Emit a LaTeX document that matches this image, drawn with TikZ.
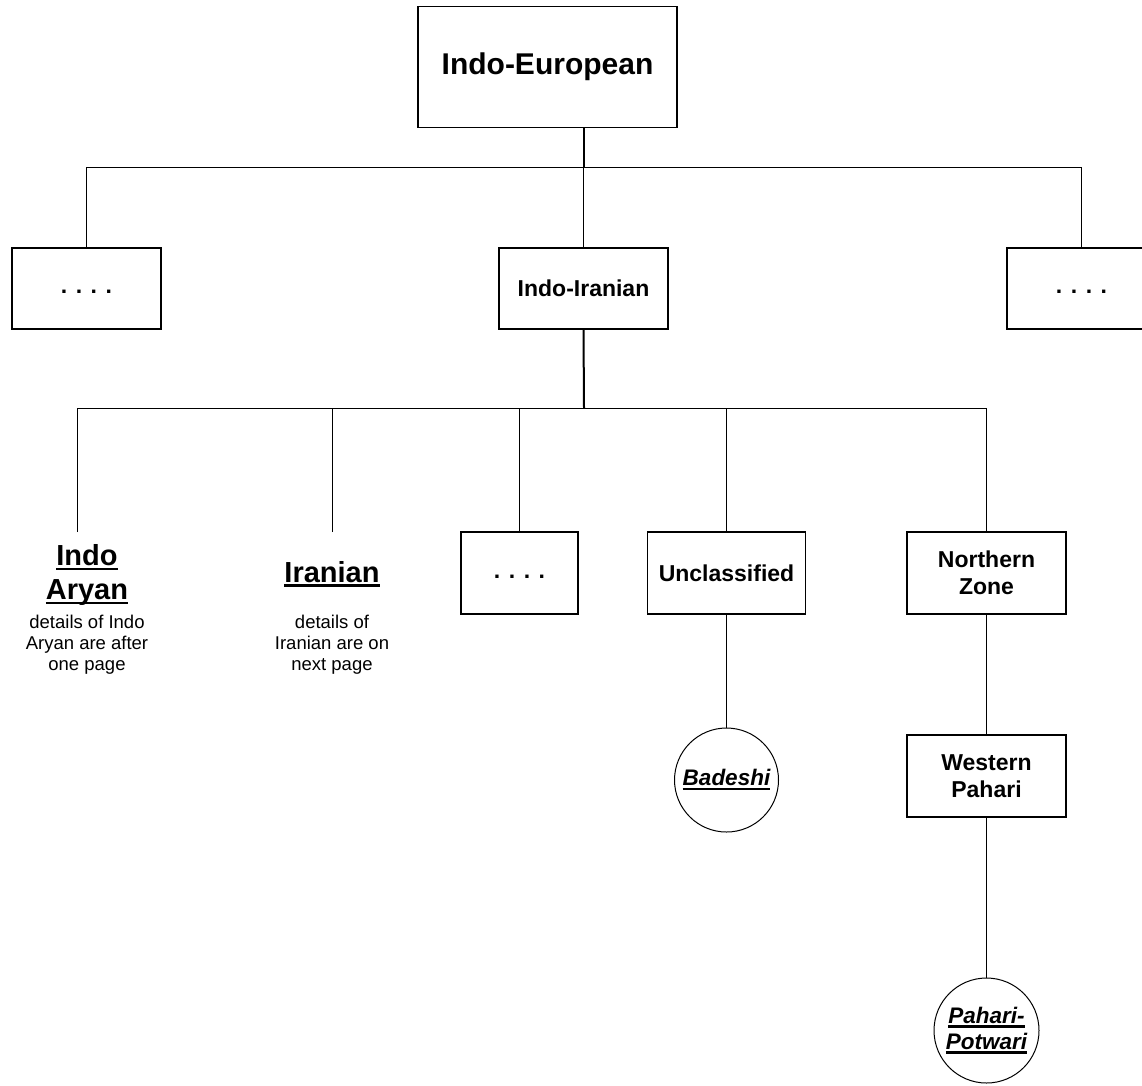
\documentclass[tikz,border=0pt]{standalone}
\usepackage{fontspec}
\setmainfont{Liberation Sans}
% heavy underline drawn as a rule under the word
\newcommand{\thickul}[1]{\setbox0\hbox{#1}\leavevmode\rlap{\rule[-4.5pt]{\wd0}{2.5pt}}\box0}
\newcommand{\dotrow}{\vphantom{Ag}. . . .}
\begin{document}
\begin{tikzpicture}[x=1pt,y=-1pt,
  box/.style={draw, line width=1.3pt, inner sep=0pt, align=center,
    font=\bfseries\fontsize{23}{27}\selectfont},
  leaf/.style={draw, circle, line width=1pt, inner sep=0pt, minimum size=104pt,
    align=center, font=\bfseries\itshape\fontsize{22.5}{26}\selectfont},
  head/.style={align=center, font=\bfseries\fontsize{29}{34}\selectfont},
  note/.style={align=center, font=\fontsize{18.5}{21}\selectfont},
  link/.style={line width=1pt},
  trunk/.style={line width=2pt}]
\useasboundingbox (0,0) rectangle (1142,1085);
\clip (0,0) rectangle (1142,1085);

% root
\node[box, minimum width=259pt, minimum height=121pt,
  font=\bfseries\fontsize{30}{35}\selectfont] (ie) at (547.5,67) {Indo-European};

% second level
\node[box, minimum width=149pt, minimum height=81pt] (lb) at (86.5,288.5) {\dotrow};
\node[box, minimum width=169pt, minimum height=81pt] (ii) at (583.5,288.5) {Indo-Iranian};
\node[box, minimum width=149pt, minimum height=81pt] (rb) at (1081.5,288.5) {\dotrow};

\coordinate (j1) at (584,167);
\draw[trunk] (ie.south -| j1) -- (j1);
\draw[link] (lb.north) -- (lb.north |- j1) -- (rb.north |- j1) -- (rb.north);
\draw[link] (ii.north) -- (ii.north |- j1);

% third level
\coordinate (iaend) at (77,532);
\coordinate (irend) at (332,532);
\node[box, minimum width=117pt, minimum height=82pt] (db) at (519.5,573) {\dotrow};
\node[box, minimum width=158pt, minimum height=82pt] (uc) at (726.5,573) {Unclassified};
\node[box, minimum width=159pt, minimum height=82pt] (nz) at (986.5,573) {Northern\\Zone};

\node[head] (ia) at (87,575) {\thickul{Indo}\\\thickul{Aryan}};
\node[note] (iadet) at (87,645) {details of Indo\\Aryan are after\\one page};
\node[head] (ir) at (332,574) {\thickul{Iranian}};
\node[note] (irdet) at (332,645) {details of\\Iranian are on\\next page};

\coordinate (j2) at (584,408);
\draw[trunk] (ii.south) -- (j2);
\draw[link] (iaend) -- (iaend |- j2) -- (nz.north |- j2) -- (nz.north);
\draw[link] (irend) -- (irend |- j2);
\draw[link] (db.north) -- (db.north |- j2);
\draw[link] (uc.north) -- (uc.north |- j2);

% lower branches
\node[leaf] (bd) at (726.5,780) {\thickul{Badeshi}};
\draw[link] (uc.south) -- (bd.north);

\node[box, minimum width=159pt, minimum height=82pt] (wp) at (986.5,776) {Western\\Pahari};
\draw[link] (nz.south) -- (wp.north);

\node[leaf, minimum size=105pt] (pp) at (986.5,1030.5) {\thickul{Pahari-}\\\thickul{Potwari}};
\draw[link] (wp.south) -- (pp.north);
\end{tikzpicture}
\end{document}
